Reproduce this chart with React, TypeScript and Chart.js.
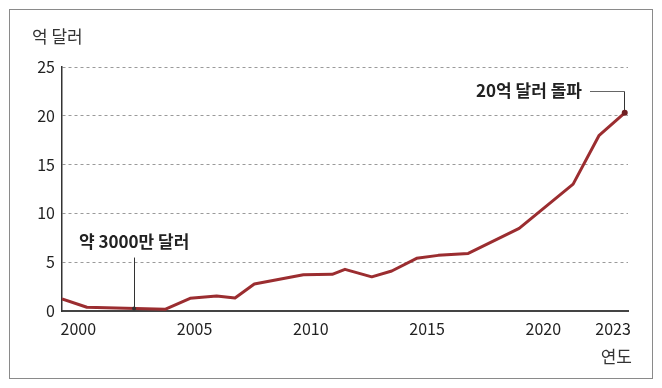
import React, { useEffect, useRef } from "react";
import { Chart, registerables } from "chart.js";

Chart.register(...registerables);

// Data (year positions, values in 억 달러)
const years = [1999.3, 2000.37, 2003.73, 2004.81, 2005.95, 2006.74, 2007.57, 2009.68, 2010.92, 2011.47, 2012.62, 2013.48, 2014.55, 2015.48, 2016.77, 2018.96, 2021.28, 2022.4, 2023.5];
const values = [1.23, 0.38, 0.17, 1.3, 1.54, 1.33, 2.77, 3.72, 3.76, 4.27, 3.5, 4.1, 5.4, 5.7, 5.9, 8.47, 13.0, 18.0, 20.3];
const xTicks = [2000, 2005, 2010, 2015, 2020, 2023];
const yTicks = [0, 5, 10, 15, 20, 25];
const yTitle = "억 달러";
const xTitle = "연도";
const annoLowLabel = "약 3000만 달러";
const annoLowYear = 2002.4;
const annoLowValue = 0.25;
const annoHighLabel = "20억 달러 돌파";
const annoHighYear = 2023.5;
const annoHighValue = 20.3;

const FONT = "'Noto Sans CJK KR', 'Noto Sans', sans-serif";

const annotationPlugin = {
  id: "annotations",
  afterDatasetsDraw(chart: any) {
    const { ctx, scales } = chart;
    const x = scales.x;
    const y = scales.y;
    ctx.save();
    // axis titles
    ctx.fillStyle = "#333";
    ctx.font = `17px ${FONT}`;
    ctx.textBaseline = "middle";
    ctx.textAlign = "left";
    ctx.fillText(yTitle, 32, 37);
    ctx.textAlign = "right";
    ctx.fillText(xTitle, 632, 357);

    // low annotation
    const lx = x.getPixelForValue(annoLowYear);
    const ly = y.getPixelForValue(annoLowValue);
    ctx.strokeStyle = "#333";
    ctx.lineWidth = 1;
    ctx.beginPath();
    ctx.moveTo(Math.round(lx) + 0.5, ly);
    ctx.lineTo(Math.round(lx) + 0.5, ly - 51);
    ctx.stroke();
    ctx.fillStyle = "#333";
    ctx.beginPath();
    ctx.arc(lx, ly, 2, 0, Math.PI * 2);
    ctx.fill();
    ctx.font = `bold 17px ${FONT}`;
    ctx.textAlign = "center";
    ctx.fillStyle = "#222";
    ctx.fillText(annoLowLabel, lx, ly - 67);

    // high annotation
    const hx = x.getPixelForValue(annoHighYear);
    const hy = y.getPixelForValue(annoHighValue);
    ctx.strokeStyle = "#666";
    ctx.beginPath();
    ctx.moveTo(590, Math.round(hy - 22) + 0.5);
    ctx.lineTo(Math.round(hx) - 0.5, Math.round(hy - 22) + 0.5);
    ctx.stroke();
    ctx.strokeStyle = "#333";
    ctx.beginPath();
    ctx.moveTo(Math.round(hx) - 0.5, Math.round(hy - 22) + 0.5);
    ctx.lineTo(Math.round(hx) - 0.5, hy);
    ctx.stroke();
    ctx.fillStyle = "#6e1f22";
    ctx.beginPath();
    ctx.arc(hx, hy, 3, 0, Math.PI * 2);
    ctx.fill();
    ctx.font = `bold 17px ${FONT}`;
    ctx.textAlign = "right";
    ctx.fillStyle = "#222";
    ctx.fillText(annoHighLabel, 582, hy - 22);
    ctx.restore();
  },
};

export default function App() {
  const ref = useRef<HTMLCanvasElement>(null);
  useEffect(() => {
    if (!ref.current) return;
    const chart = new Chart(ref.current, {
      type: "line",
      data: {
        datasets: [
          {
            data: years.map((yr, i) => ({ x: yr, y: values[i] })),
            borderColor: "#9b2d30",
            borderWidth: 3,
            pointRadius: 0,
            tension: 0,
            borderJoinStyle: "round",
          },
        ],
      },
      options: {
        animation: false,
        responsive: false,
        layout: { padding: { top: 67, right: 34, left: 0, bottom: 0 } },
        plugins: { legend: { display: false }, tooltip: { enabled: false } },
        scales: {
          x: {
            type: "linear",
            min: 1999.3,
            max: 2023.64,
            afterBuildTicks: (scale: any) => {
              scale.ticks = xTicks.map((v) => ({ value: v }));
            },
            afterFit: (scale: any) => {
              scale.height = 77;
            },
            grid: { display: false, drawTicks: false },
            border: { display: true, color: "#444", width: 2 },
            ticks: {
              color: "#222",
              font: { family: FONT, size: 16 },
              padding: 8,
              maxRotation: 0,
              autoSkip: false,
              callback: (v: any) => String(v),
            },
          },
          y: {
            min: 0,
            max: 25,
            afterBuildTicks: (scale: any) => {
              scale.ticks = yTicks.map((v) => ({ value: v }));
            },
            afterFit: (scale: any) => {
              scale.width = 62;
            },
            grid: {
              drawTicks: false,
              color: (c: any) => (c.tick && c.tick.value === 0 ? "rgba(0,0,0,0)" : "#9a9a9a"),
              lineWidth: 1,
            },
            border: { display: true, color: "#333", width: 1.5, dash: [3, 3] },
            ticks: {
              color: "#222",
              font: { family: FONT, size: 16 },
              padding: 7,
              callback: (v: any) => String(v),
            },
          },
        },
      },
      plugins: [annotationPlugin],
    } as any);
    return () => chart.destroy();
  }, []);

  return (
    <div style={{ position: "relative", width: 646, height: 372 }}>
      <div
        style={{
          position: "absolute",
          left: 1,
          top: 1,
          width: 644,
          height: 370,
          boxSizing: "border-box",
          border: "1px solid #8a8a8a",
        }}
      />
      <canvas
        ref={ref}
        width={662}
        height={388}
        style={{ position: "absolute", left: -8, top: -8, width: 662, height: 388 }}
      />
    </div>
  );
}
